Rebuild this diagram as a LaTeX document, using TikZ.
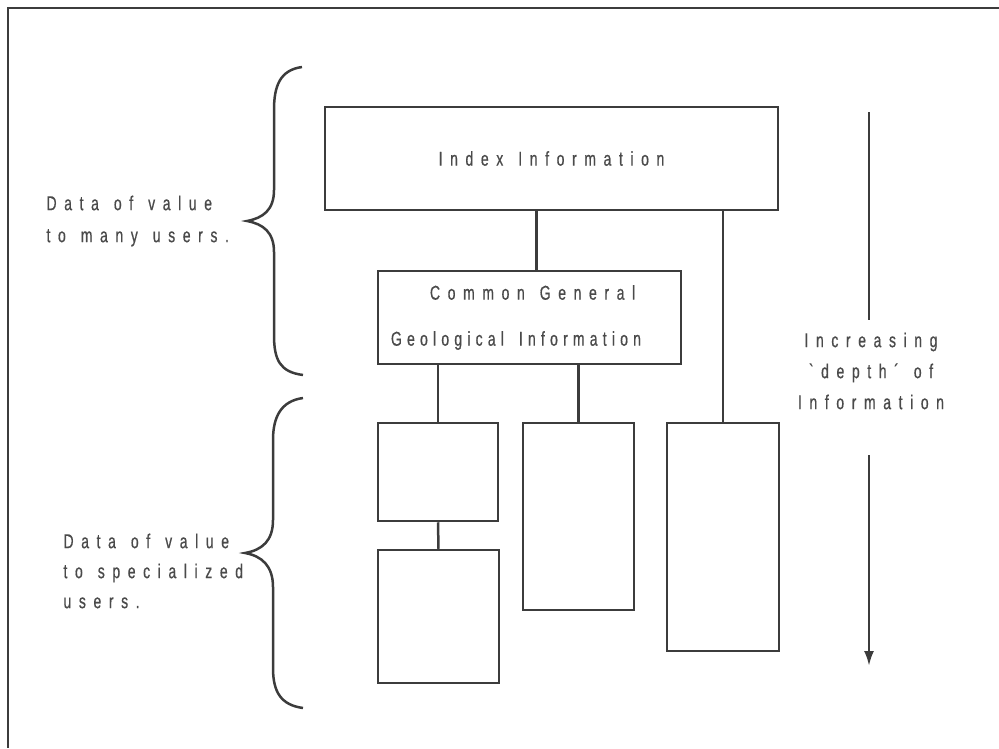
\documentclass[tikz,border=0pt]{standalone}
\usepackage{fontspec}
\newfontfamily\chartfont[FakeStretch=0.7,FakeBold=0.6,LetterSpace=38]{Liberation Sans}
\newcommand\chartsize[1]{\chartfont\fontsize{20}{#1}\selectfont\spaceskip=15pt\relax}
\usetikzlibrary{arrows.meta,positioning}
\definecolor{inkline}{HTML}{3C3C3C}
\definecolor{inktext}{HTML}{4A4A4A}
\begin{document}
\begin{tikzpicture}[x=1pt,y=-1pt,
    line/.style={draw=inkline,line width=2.5pt},
    every node/.style={font=\chartsize{24},text=inktext}]
      \useasboundingbox (0,0) rectangle (999,748);
      \draw[line] (999,8) -- (8,8) -- (8,748);
      \begin{scope}[every node/.style={draw=inkline,line width=2.5pt,inner sep=0pt,
          font=\chartsize{24},text=inktext}]
        \node (Idx) [minimum width=453pt,minimum height=103pt] at (551.5,158.5) {Index Information};
        \node (Gen) [text width=303pt,minimum height=93pt,align=left] at (529.5,317.5)
          {\hspace*{52pt}Common\hspace{15pt}General\\[22pt]\hspace*{13pt}{\addfontfeature{LetterSpace=26}\spaceskip=15pt\relax Geological Information}};
        \node (A) [minimum width=120pt,minimum height=98pt] at (438,472) {};
        \node (B) [minimum width=121pt,minimum height=133pt] at (438.5,616.5) {};
        \node (C) [minimum width=111pt,minimum height=187pt] at (578.5,516.5) {};
        \node (D) [minimum width=112pt,minimum height=228pt] at (723,537) {};
      \end{scope}
      \begin{scope}[every edge/.style={line}]
        \path ([xshift=7pt]Gen.north) edge ([xshift=7pt]Gen.north |- Idx.south);
        \path (D.north) edge (D.north |- Idx.south);
        \path (A.north) edge (A.north |- Gen.south);
        \path (C.north) edge (C.north |- Gen.south);
        \path (A.south) edge (B.north);
      \end{scope}
      % braces
      \draw[line] (302,67) .. controls (280,70) and (274,86) .. (274,110) -- (274,190)
        .. controls (274,210) and (263,218) .. (247,221)
        .. controls (263,224) and (274,232) .. (274,252) -- (274,335)
        .. controls (274,360) and (280,372) .. (303,375);
      \draw[line] (303,398) .. controls (281,401) and (273,417) .. (273,440) -- (273,520)
        .. controls (273,541) and (262,550) .. (245,553)
        .. controls (262,556) and (273,566) .. (273,587) -- (273,668)
        .. controls (273,692) and (281,705) .. (303,708);
      \node (many) [anchor=west,align=left,font=\chartsize{32}]
        at (43,221) {Data of value\\to many users.};
      \node (spec) [anchor=west,align=left,font=\chartsize{30}]
        at (60,571) {Data of value\\to specialized\\users.};
      % depth arrow
      \node (depth) [align=center,font=\chartsize{31}]
        at (871,371) {Increasing\\\symbol{96}depth´ of\\Information};
      \coordinate (arrtop) at (869,112);
      \coordinate (gaptop) at (869,320);
      \coordinate (gapbot) at (869,455);
      \coordinate (arrtip) at (869,666);
      \draw[line] (arrtop) -- (gaptop);
      \draw[line,-{Latex[length=15pt,width=10pt]}] (gapbot) -- (arrtip);
    \end{tikzpicture}
\end{document}
